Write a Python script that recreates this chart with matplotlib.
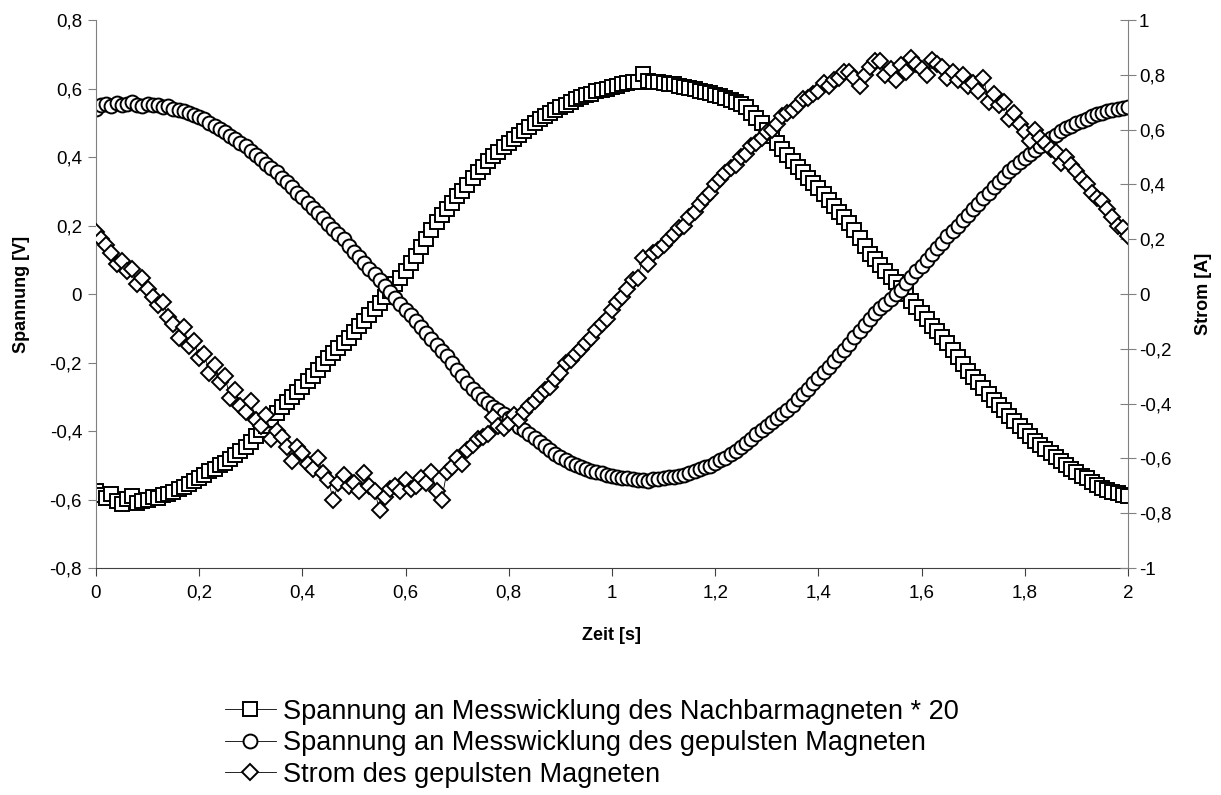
import matplotlib
matplotlib.use("Agg")
import matplotlib.pyplot as plt
from matplotlib.ticker import FuncFormatter, MultipleLocator

plt.rcParams['font.family'] = ['Liberation Sans', 'DejaVu Sans']

# Zeitachse (s), Schrittweite 0,01 s
zeit = [i / 100 for i in range(201)]

# Spannung an Messwicklung des Nachbarmagneten * 20 (V)
u_nachbar = [
    -0.575, -0.588, -0.595, -0.583, -0.605, -0.612, -0.598, -0.590, -0.610, -0.603,
    -0.600, -0.592, -0.596, -0.588, -0.585, -0.578, -0.570, -0.563, -0.556, -0.545,
    -0.536, -0.528, -0.518, -0.510, -0.500, -0.492, -0.482, -0.470, -0.458, -0.446,
    -0.432, -0.414, -0.398, -0.384, -0.368, -0.348, -0.330, -0.315, -0.300, -0.286,
    -0.270, -0.254, -0.238, -0.222, -0.205, -0.188, -0.172, -0.158, -0.142, -0.127,
    -0.112, -0.094, -0.078, -0.060, -0.045, -0.026, -0.008, 0.010, 0.028, 0.048,
    0.068, 0.090, 0.112, 0.138, 0.162, 0.186, 0.210, 0.230, 0.248, 0.266,
    0.285, 0.302, 0.318, 0.338, 0.356, 0.372, 0.388, 0.402, 0.415, 0.430,
    0.442, 0.454, 0.465, 0.476, 0.488, 0.500, 0.510, 0.520, 0.528, 0.538,
    0.546, 0.552, 0.560, 0.568, 0.575, 0.580, 0.585, 0.592, 0.596, 0.600,
    0.604, 0.608, 0.612, 0.616, 0.620, 0.618, 0.642, 0.622, 0.618, 0.620,
    0.615, 0.614, 0.612, 0.608, 0.605, 0.602, 0.598, 0.594, 0.590, 0.586,
    0.582, 0.577, 0.572, 0.567, 0.562, 0.555, 0.545, 0.530, 0.515, 0.498,
    0.478, 0.460, 0.440, 0.422, 0.405, 0.388, 0.370, 0.355, 0.340, 0.325,
    0.310, 0.293, 0.276, 0.258, 0.240, 0.224, 0.208, 0.188, 0.165, 0.140,
    0.118, 0.102, 0.085, 0.068, 0.050, 0.034, 0.018, 0.000, -0.020, -0.038,
    -0.055, -0.074, -0.092, -0.108, -0.125, -0.144, -0.162, -0.184, -0.205, -0.224,
    -0.242, -0.258, -0.275, -0.292, -0.308, -0.324, -0.340, -0.355, -0.370, -0.385,
    -0.400, -0.414, -0.428, -0.440, -0.452, -0.464, -0.475, -0.488, -0.500, -0.510,
    -0.520, -0.530, -0.538, -0.548, -0.558, -0.565, -0.572, -0.577, -0.582, -0.586,
    -0.590,
]

# Spannung an Messwicklung des gepulsten Magneten (V)
u_gepulst = [
    0.540, 0.552, 0.556, 0.548, 0.558, 0.551, 0.555, 0.560, 0.553, 0.549,
    0.556, 0.551, 0.553, 0.546, 0.548, 0.541, 0.538, 0.534, 0.528, 0.524,
    0.516, 0.510, 0.500, 0.492, 0.481, 0.472, 0.462, 0.452, 0.440, 0.432,
    0.418, 0.406, 0.394, 0.381, 0.368, 0.356, 0.340, 0.326, 0.312, 0.296,
    0.282, 0.266, 0.250, 0.236, 0.221, 0.205, 0.190, 0.176, 0.160, 0.140,
    0.124, 0.108, 0.092, 0.074, 0.058, 0.040, 0.022, 0.006, -0.012, -0.028,
    -0.046, -0.062, -0.080, -0.096, -0.113, -0.130, -0.148, -0.165, -0.182, -0.200,
    -0.221, -0.240, -0.260, -0.278, -0.292, -0.306, -0.318, -0.330, -0.338, -0.350,
    -0.362, -0.375, -0.388, -0.398, -0.410, -0.420, -0.432, -0.444, -0.455, -0.466,
    -0.476, -0.485, -0.492, -0.500, -0.506, -0.511, -0.516, -0.520, -0.524, -0.527,
    -0.530, -0.533, -0.536, -0.538, -0.541, -0.544, -0.543, -0.546, -0.541, -0.539,
    -0.537, -0.535, -0.533, -0.530, -0.527, -0.522, -0.518, -0.512, -0.506, -0.501,
    -0.494, -0.486, -0.478, -0.468, -0.458, -0.447, -0.436, -0.423, -0.410, -0.398,
    -0.386, -0.374, -0.362, -0.350, -0.338, -0.323, -0.307, -0.292, -0.276, -0.260,
    -0.245, -0.228, -0.212, -0.195, -0.178, -0.162, -0.145, -0.126, -0.108, -0.090,
    -0.072, -0.056, -0.042, -0.028, -0.014, 0.000, 0.012, 0.032, 0.050, 0.066,
    0.082, 0.100, 0.118, 0.134, 0.150, 0.168, 0.184, 0.200, 0.216, 0.232,
    0.248, 0.264, 0.280, 0.296, 0.312, 0.327, 0.342, 0.358, 0.372, 0.386,
    0.398, 0.408, 0.420, 0.433, 0.445, 0.456, 0.465, 0.476, 0.485, 0.492,
    0.500, 0.506, 0.512, 0.519, 0.525, 0.528, 0.533, 0.537, 0.540, 0.543,
    0.546,
]

# Strom des gepulsten Magneten (A)
i_gepulst = [
    0.225, 0.200, 0.180, 0.150, 0.110, 0.120, 0.085, 0.090, 0.035, 0.060,
    0.020, -0.010, -0.040, -0.030, -0.085, -0.110, -0.160, -0.120, -0.190, -0.170,
    -0.235, -0.220, -0.290, -0.260, -0.320, -0.300, -0.380, -0.350, -0.410, -0.430,
    -0.390, -0.460, -0.480, -0.440, -0.530, -0.500, -0.520, -0.560, -0.610, -0.560,
    -0.580, -0.620, -0.640, -0.600, -0.655, -0.680, -0.750, -0.690, -0.660, -0.700,
    -0.690, -0.720, -0.655, -0.700, -0.720, -0.790, -0.740, -0.710, -0.700, -0.720,
    -0.680, -0.710, -0.700, -0.670, -0.690, -0.650, -0.720, -0.750, -0.650, -0.630,
    -0.600, -0.620, -0.570, -0.550, -0.530, -0.520, -0.510, -0.450, -0.480, -0.490,
    -0.470, -0.440, -0.460, -0.430, -0.410, -0.390, -0.370, -0.350, -0.340, -0.310,
    -0.290, -0.250, -0.240, -0.220, -0.200, -0.180, -0.160, -0.130, -0.110, -0.090,
    -0.060, -0.030, -0.010, 0.020, 0.050, 0.060, 0.130, 0.110, 0.150, 0.160,
    0.180, 0.200, 0.220, 0.240, 0.250, 0.280, 0.300, 0.330, 0.350, 0.370,
    0.400, 0.420, 0.440, 0.460, 0.470, 0.500, 0.510, 0.540, 0.550, 0.570,
    0.590, 0.600, 0.620, 0.650, 0.660, 0.670, 0.690, 0.710, 0.715, 0.730,
    0.740, 0.770, 0.760, 0.780, 0.790, 0.810, 0.810, 0.790, 0.760, 0.800,
    0.830, 0.850, 0.850, 0.800, 0.820, 0.780, 0.835, 0.810, 0.860, 0.840,
    0.820, 0.800, 0.855, 0.840, 0.830, 0.790, 0.810, 0.780, 0.800, 0.760,
    0.770, 0.740, 0.790, 0.700, 0.730, 0.690, 0.700, 0.640, 0.660, 0.620,
    0.590, 0.560, 0.600, 0.570, 0.550, 0.530, 0.520, 0.480, 0.500, 0.470,
    0.450, 0.420, 0.400, 0.370, 0.350, 0.340, 0.310, 0.280, 0.250, 0.240,
    0.210,
]

labels = [
    "Spannung an Messwicklung des Nachbarmagneten * 20",
    "Spannung an Messwicklung des gepulsten Magneten",
    "Strom des gepulsten Magneten",
]

komma = FuncFormatter(lambda v, p: ("%g" % round(v, 2)).replace(".", ","))

fig = plt.figure(figsize=(12.21, 7.95), dpi=100)
ax1 = fig.add_axes([0.0786, 0.2855, 0.8452, 0.6893])
ax2 = ax1.twinx()

mk = dict(color="black", lw=0.6, mfc="white", mec="black", mew=1.4, ms=10)
l1, = ax1.plot(zeit, u_nachbar, marker="s", label=labels[0], **mk)
l2, = ax1.plot(zeit, u_gepulst, marker="o", label=labels[1], **mk)
l3, = ax2.plot(zeit, i_gepulst, marker="D", label=labels[2], **dict(mk, ms=8.5))

ax1.set_xlim(0, 2)
ax1.set_ylim(-0.8, 0.8)
ax2.set_ylim(-1, 1)
ax1.xaxis.set_major_locator(MultipleLocator(0.2))
ax1.yaxis.set_major_locator(MultipleLocator(0.2))
ax2.yaxis.set_major_locator(MultipleLocator(0.2))
for a in (ax1, ax2):
    a.xaxis.set_major_formatter(komma)
    a.yaxis.set_major_formatter(komma)
    for s in a.spines.values():
        s.set_visible(False)

ax1.spines["left"].set_visible(True)
ax1.spines["left"].set_color("#808080")
ax1.spines["bottom"].set_visible(True)
ax1.spines["bottom"].set_color("#404040")
ax2.spines["right"].set_visible(True)
ax2.spines["right"].set_color("#808080")

ax1.tick_params(axis="y", direction="out", length=6, color="#808080", labelsize=13.5, pad=4)
ax1.tick_params(axis="x", direction="out", length=6, color="#404040", labelsize=13.5, pad=6)
ax2.tick_params(axis="y", direction="inout", length=12, color="#808080", labelsize=13.5, pad=2)

ax1.set_xlabel("Zeit [s]", fontsize=13, fontweight="bold", labelpad=18)
ax1.set_ylabel("Spannung [V]", fontsize=13, fontweight="bold", labelpad=14)
ax2.set_ylabel("Strom [A]", fontsize=13, fontweight="bold", labelpad=17)

fig.legend(handles=[l1, l2, l3], loc="upper left", bbox_to_anchor=(0.184, 0.121),
           frameon=False, fontsize=19.5, handlelength=1.9, handletextpad=0.25,
           labelspacing=0.2, borderaxespad=0, borderpad=0)

fig.savefig("out.png", dpi=100)
